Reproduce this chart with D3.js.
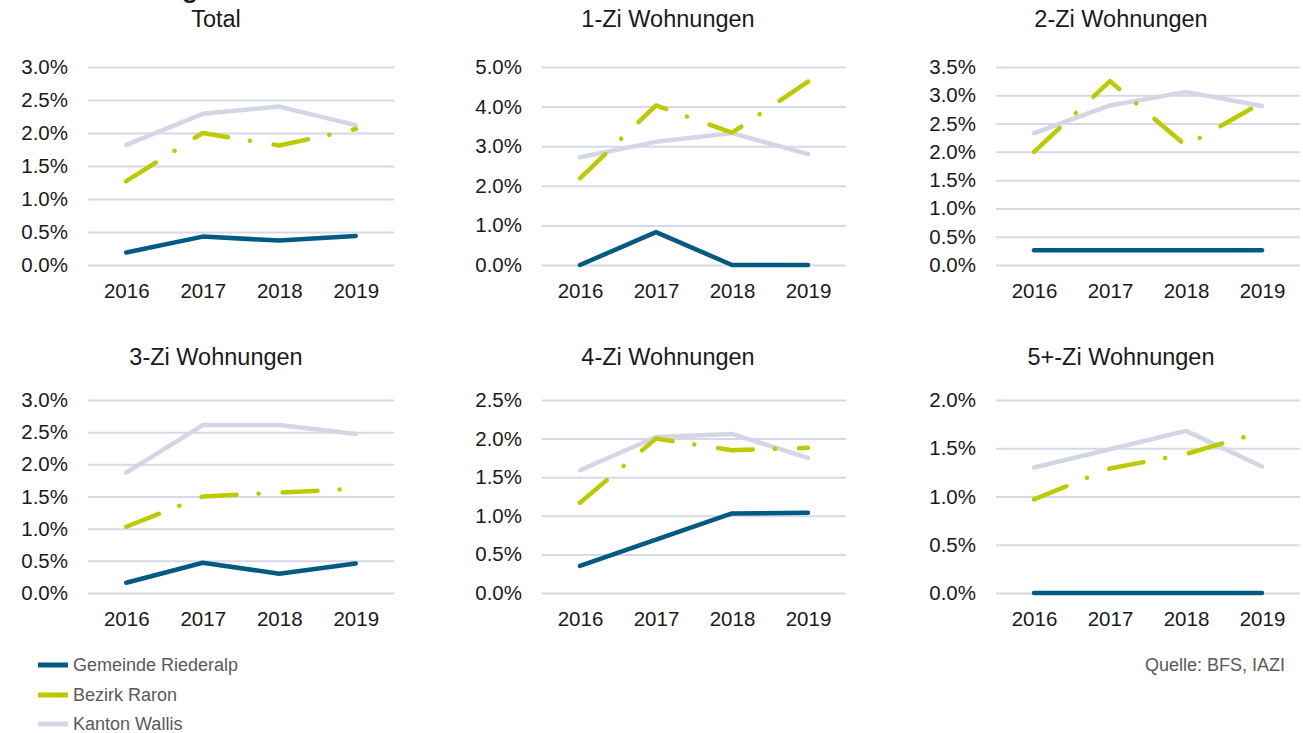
<!DOCTYPE html>
<html>
<head>
<meta charset="utf-8">
<script src="https://cdn.jsdelivr.net/npm/d3@7"></script>
<style>
  body { margin: 0; background: #fff; }
  svg { display: block; font-family: "Liberation Sans", Arial, sans-serif; }
  .grid line { stroke: #d6d9e8; stroke-width: 2; }
  .grid .zero line { stroke: #d9d9d9; }
  .grid path { display: none; }
  .tick text { fill: #1a1a1a; font-size: 20.5px; }
  .ptitle { fill: #1a1a1a; font-size: 23.5px; text-anchor: middle; }
  .leg text, .source { fill: #595959; font-size: 18px; }
</style>
</head>
<body>
<div class="chart"></div>
<script>
// data
var years = ["2016", "2017", "2018", "2019"];
var panelTitles = ["Total", "1-Zi Wohnungen", "2-Zi Wohnungen", "3-Zi Wohnungen", "4-Zi Wohnungen", "5+-Zi Wohnungen"];
var yMax  = [3.0, 5.0, 3.5, 3.0, 2.5, 2.0];
var yStep = [0.5, 1.0, 0.5, 0.5, 0.5, 0.5];
var seriesNames = ["Gemeinde Riederalp", "Bezirk Raron", "Kanton Wallis"];
// values in percent, one row per panel
var gemeinde = [
  [0.19, 0.43, 0.37, 0.44],
  [0.00, 0.83, 0.00, 0.00],
  [0.26, 0.26, 0.26, 0.26],
  [0.16, 0.47, 0.30, 0.46],
  [0.35, 0.69, 1.03, 1.04],
  [0.00, 0.00, 0.00, 0.00]
];
var bezirk = [
  [1.27, 2.00, 1.81, 2.06],
  [2.19, 4.03, 3.34, 4.63],
  [2.00, 3.25, 2.11, 2.87],
  [1.03, 1.50, 1.56, 1.62],
  [1.17, 2.00, 1.85, 1.88],
  [0.97, 1.29, 1.44, 1.67]
];
var kanton = [
  [1.82, 2.29, 2.40, 2.12],
  [2.72, 3.11, 3.33, 2.80],
  [2.33, 2.82, 3.06, 2.81],
  [1.87, 2.61, 2.61, 2.47],
  [1.59, 2.02, 2.06, 1.75],
  [1.30, 1.49, 1.68, 1.31]
];

var W = 1303, H = 733;
var colLeft = [88, 542, 996],
    colWidth = [306, 304, 304],
    titleX = [216, 668, 1121],
    rowTop = [67, 400],
    rowBottom = [265, 593],
    titleY = [27, 365];

var colors = ["#005a82", "#bccb00", "#d3d6e5"];
var pct = d3.format(".1f");

var svg = d3.select(".chart").append("svg")
    .attr("width", W)
    .attr("height", H);

// main title sits above the top edge, only a descender shows (as in the source)
svg.append("text")
    .attr("x", 198)
    .attr("y", -2.5)
    .attr("text-anchor", "end")
    .style("font-size", "26px")
    .style("font-weight", "bold")
    .style("fill", "#1a1a1a")
    .text("Leerstandsentwicklung");

panelTitles.forEach(function(title, i){
  var col = i % 3, row = Math.floor(i / 3);
  var left = colLeft[col], width = colWidth[col];
  var top = rowTop[row], bottom = rowBottom[row];

  var x = d3.scalePoint()
      .domain(years)
      .range([left, left + width])
      .padding(0.5);
  var y = d3.scaleLinear()
      .domain([0, yMax[i]])
      .range([bottom, top]);

  var g = svg.append("g").attr("class", "panel");

  g.append("text")
      .attr("class", "ptitle")
      .attr("x", titleX[col])
      .attr("y", titleY[row])
      .text(title);

  //Grid + y labels
  var ticks = d3.range(0, yMax[i] + 1e-9, yStep[i]);
  var yAxis = d3.axisLeft(y)
      .tickValues(ticks)
      .tickSizeInner(-width)
      .tickSizeOuter(0)
      .tickPadding(20)
      .tickFormat(function(d){ return pct(d) + "%"; });
  g.append("g")
      .attr("class", "grid")
      .attr("transform", "translate(" + left + ",0)")
      .call(yAxis)
      .selectAll(".tick")
      .classed("zero", function(d){ return d === 0; });

  //X labels
  var xAxis = d3.axisBottom(x).tickSize(0).tickPadding(18);
  var xa = g.append("g")
      .attr("class", "grid")
      .attr("transform", "translate(0," + bottom + ")")
      .call(xAxis);
  xa.select(".domain").remove();

  var line = d3.line()
      .x(function(d, j){ return x(years[j]); })
      .y(function(d){ return y(d); });

  // Kanton below, Bezirk on top, Gemeinde last
  g.append("path")
      .datum(kanton[i])
      .attr("d", line)
      .attr("fill", "none")
      .attr("stroke", colors[2])
      .attr("stroke-width", 4.5)
      .attr("stroke-linecap", "round")
      .attr("stroke-linejoin", "round");

  g.append("path")
      .datum(bezirk[i])
      .attr("d", line)
      .attr("fill", "none")
      .attr("stroke", colors[1])
      .attr("stroke-width", 4.5)
      .attr("stroke-dasharray", "35,22,0.1,24")
      .attr("stroke-linecap", "round")
      .attr("stroke-linejoin", "round");

  g.append("path")
      .datum(gemeinde[i])
      .attr("d", line)
      .attr("fill", "none")
      .attr("stroke", colors[0])
      .attr("stroke-width", 4.5)
      .attr("stroke-linecap", "round")
      .attr("stroke-linejoin", "round");
});

// legend
var leg = svg.append("g").attr("class", "leg")
    .selectAll("g")
    .data(seriesNames)
    .enter().append("g")
    .attr("transform", function(d, i){ return "translate(38," + [665, 695, 724][i] + ")"; });
leg.append("line")
    .attr("x2", 30)
    .attr("stroke", function(d, i){ return colors[i]; })
    .attr("stroke-width", 5);
leg.append("text")
    .attr("x", 35)
    .attr("dy", "0.35em")
    .text(function(d){ return d; });

svg.append("text")
    .attr("class", "source")
    .attr("x", 1285)
    .attr("y", 665)
    .attr("dy", "0.35em")
    .attr("text-anchor", "end")
    .text("Quelle: BFS, IAZI");
</script>
</body>
</html>
